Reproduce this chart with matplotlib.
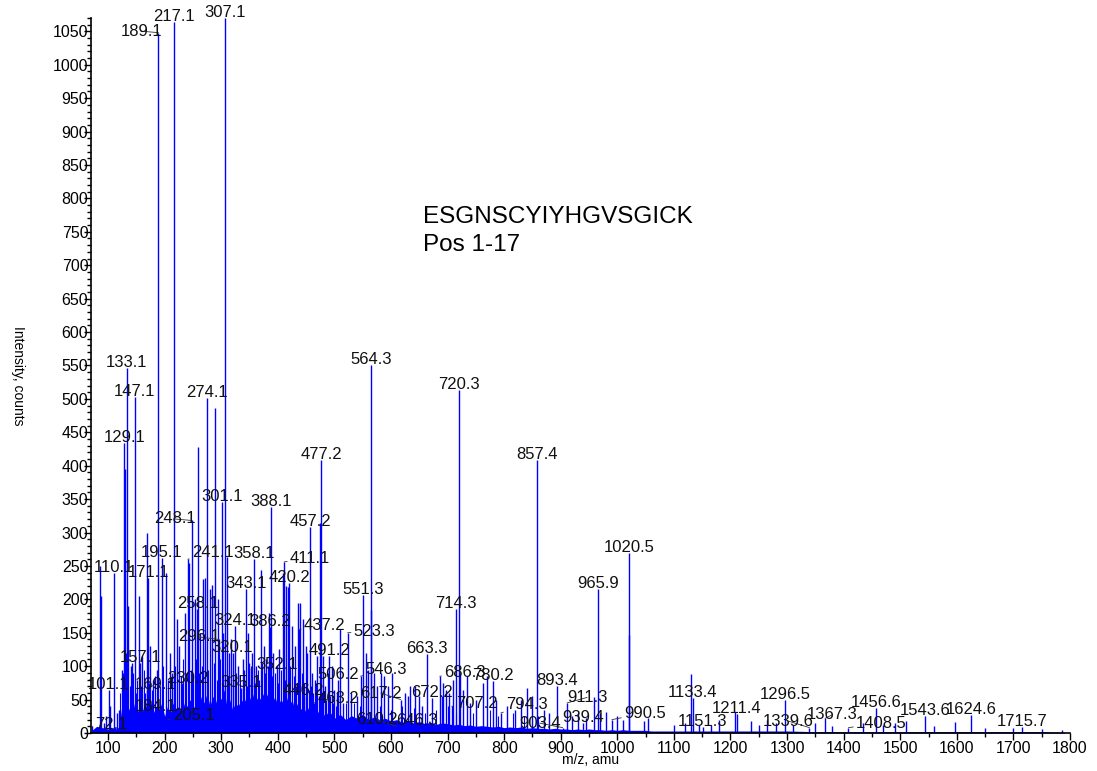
import numpy as np
import matplotlib
matplotlib.use("Agg")
from matplotlib import pyplot as plt
from matplotlib.ticker import MultipleLocator

plt.rcParams['font.family'] = ['Liberation Sans', 'DejaVu Sans']

# labelled peaks (m/z, intensity)
peak_mz = [72.1, 101.1, 110.1, 129.1, 133.1, 147.1, 157.1, 169.1, 171.1, 184.1,
           189.1, 195.1, 205.1, 217.1, 230.2, 241.1, 248.1, 258.1, 274.1, 296.1,
           301.1, 307.1, 320.1, 324.1, 335.1, 343.1, 352.1, 358.1, 386.2, 388.1,
           411.1, 420.2, 437.2, 446.2, 457.2, 463.2, 477.2, 491.2, 506.2, 523.3,
           546.3, 551.3, 564.3, 610.2, 617.2, 646.3, 663.3, 672.2, 686.3, 707.2,
           714.3, 720.3, 780.2, 794.3, 857.4, 893.4, 903.4, 911.3, 939.4, 965.9,
           990.5, 1020.5, 1133.4, 1151.3, 1211.4, 1296.5, 1339.6, 1367.3, 1408.5,
           1456.6, 1543.6, 1624.6, 1715.7]
peak_int = [10, 65, 240, 434, 546, 503, 105, 65, 232, 32,
            1048, 262, 20, 1064, 75, 260, 318, 185, 501, 140,
            345, 1070, 120, 160, 68, 215, 95, 260, 158, 338,
            256, 225, 155, 55, 308, 45, 408, 115, 80, 150,
            85, 206, 550, 10, 50, 10, 118, 52, 85, 40,
            185, 514, 78, 30, 408, 70, 8, 45, 15, 215,
            20, 270, 52, 9, 28, 49, 8, 22, 8,
            38, 26, 27, 9]

# unlabelled peaks
minor_mz = [86, 87, 92, 97, 104, 115, 119, 124, 126, 130.1, 131, 136, 140, 143,
            150, 155, 160, 168, 175, 180, 186, 202, 210, 213, 222, 226, 236, 243,
            253, 259, 263, 268, 271, 280, 284, 289, 294, 303, 310, 314, 318, 330,
            338, 347, 350, 355, 362, 370, 375, 380, 384, 392, 398, 403, 409, 414,
            418, 425, 430, 435, 439, 444, 449, 452, 460, 466, 470, 475, 480, 484,
            488, 495, 500, 505, 510, 515, 530, 540, 556, 560, 565, 570, 575, 582,
            588, 595, 602, 625, 630, 634, 642, 650, 655, 690, 692, 697, 702, 709,
            722, 728, 734, 740, 750, 762, 770, 785, 805, 820, 830, 840, 850, 870,
            880, 920, 930, 945, 959, 970, 980, 1000, 1010, 1021, 1047, 1055, 1100,
            1120, 1130, 1145, 1165, 1180, 1208, 1236, 1250, 1265, 1280, 1310, 1350,
            1380, 1435, 1470, 1490, 1510, 1560, 1597, 1650, 1700, 1750, 1785]
minor_int = [250, 205, 15, 25, 40, 30, 35, 95, 90, 395, 120, 190, 100, 105,
             60, 205, 115, 300, 130, 80, 95, 240, 120, 90, 170, 130, 180, 255,
             200, 428, 150, 230, 232, 215, 221, 486, 200, 150, 263, 120, 140, 100,
             110, 150, 105, 120, 100, 244, 130, 110, 180, 120, 100, 125, 240, 220,
             218, 160, 130, 195, 194, 170, 130, 120, 90, 80, 115, 314, 115, 70,
             90, 100, 65, 60, 155, 45, 60, 55, 120, 95, 184, 90, 70, 90,
             85, 70, 90, 60, 55, 70, 70, 55, 40, 55, 75, 65, 60, 80,
             90, 65, 85, 45, 50, 75, 85, 50, 40, 35, 50, 67, 55, 35,
             30, 25, 30, 22, 54, 30, 32, 25, 20, 147, 18, 22, 12,
             15, 88, 12, 12, 20, 31, 18, 12, 20, 15, 12, 15,
             10, 15, 12, 15, 18, 10, 16, 8, 8, 6, 5]

# small peaks sticking out of the baseline
small_mz = [122, 128, 134, 138, 145, 148, 152, 158, 163, 166, 173, 178, 183, 191,
            197, 206, 216, 219, 229, 233, 238, 246, 250, 256, 261, 266, 277, 287,
            292, 297, 306, 312, 321, 327, 333, 341, 345, 353, 359, 365, 367, 372,
            378, 382, 389, 395, 401, 406, 412, 422, 428, 433, 442, 447, 455, 458,
            462, 468, 473, 478, 486, 492, 498, 503, 520, 535, 545, 555, 580, 600,
            620, 640, 660, 680, 700, 715, 745, 775, 790, 815, 835, 860]
small_int = [60, 85, 75, 70, 90, 65, 80, 70, 95, 60, 75, 65, 85, 70,
             100, 80, 75, 100, 85, 110, 90, 95, 85, 110, 90, 100, 95, 105,
             80, 110, 95, 85, 75, 90, 80, 95, 70, 100, 75, 95, 80, 105,
             90, 100, 85, 90, 75, 95, 80, 100, 85, 70, 90, 75, 65, 70,
             60, 75, 55, 60, 50, 55, 45, 40, 45, 45, 40, 50, 40, 35,
             40, 38, 30, 35, 40, 30, 30, 35, 25, 30, 25, 25]

# dense low-level baseline (envelope of the "grass")
grass_mz = [70, 80, 90, 100, 110, 115, 120, 125, 130, 135, 140, 145, 150, 155,
            160, 165, 170, 175, 180, 185, 190, 195, 200, 205, 210, 215, 220, 225,
            230, 235, 240, 245, 250, 255, 260, 265, 270, 275, 280, 285, 290, 295,
            300, 305, 310, 315, 320, 325, 330, 335, 340, 345, 350, 355, 360, 365,
            370, 375, 380, 385, 390, 395, 400, 405, 410, 415, 420, 425, 430, 435,
            440, 445, 450, 455, 460, 465, 470, 475, 480, 485, 490, 495, 500,
            510, 520, 530, 540, 550, 560, 570, 580, 590, 600, 610, 620,
            630, 640, 650, 660, 670, 680, 690, 700, 710, 720, 730, 740, 750, 760,
            770, 780, 790, 800, 810, 820, 830, 840, 850, 860, 870, 880, 890, 900,
            910, 920, 930, 940, 950, 960, 970, 980, 990, 1000, 1010, 1020, 1030,
            1040, 1050, 1060, 1070, 1080, 1090, 1100, 1150, 1200, 1250, 1300, 1350,
            1400, 1450, 1500, 1550, 1600, 1650, 1700, 1750, 1790]
grass_int = [3, 10, 8, 6, 8, 6, 10, 45, 55, 40, 30, 45, 25, 40,
             30, 45, 35, 50, 30, 40, 35, 45, 25, 40, 30, 45, 35, 40,
             30, 45, 40, 50, 35, 45, 40, 55, 45, 60, 40, 55, 45, 60,
             50, 65, 40, 50, 35, 45, 40, 50, 45, 55, 50, 60, 45, 55,
             50, 60, 55, 65, 45, 55, 40, 50, 45, 55, 40, 50, 35, 45,
             35, 40, 30, 40, 28, 35, 30, 38, 25, 32, 25, 30, 22,
             28, 20, 26, 22, 28, 20, 24, 20, 22, 18, 20, 16,
             18, 15, 17, 14, 16, 13, 15, 14, 12, 13, 11, 12, 10, 11,
             10, 9, 10, 8, 9, 8, 9, 7, 8, 7, 7, 6, 7, 6,
             6, 5, 6, 5, 6, 5, 5, 4, 5, 4, 5, 4, 4,
             4, 4, 3, 3, 3, 3, 3, 3, 3, 3, 3, 2,
             2, 2, 2, 2, 2, 2, 2, 2, 1]

# label shifts (pixels) for labels drawn with a leader line
leader = {72.1: (19, -3), 189.1: (-17, -3), 241.1: (25, 2), 248.1: (-17, -3),
          296.1: (-20, -2), 411.1: (26, -1), 437.2: (26, -1), 352.1: (26, 1),
          169.1: (8, 1), 230.2: (6, 0), 205.1: (26, 0), 463.2: (25, 0),
          523.3: (27, -3), 546.3: (26, 2), 617.2: (-20, 2), 610.2: (-20, 2),
          686.3: (25, -1), 707.2: (25, -2), 794.3: (26, 4), 903.4: (-23, 0),
          911.3: (20, 1), 990.5: (33, 2), 1339.6: (-21, 2), 1367.3: (7, -1),
          1408.5: (33, 0)}

fig = plt.figure(figsize=(10.97, 7.71), dpi=100)
ax = fig.add_axes([0.083, 0.0493, 0.8924, 0.9274])

blue = '#0000ff'
ax.fill_between(grass_mz, grass_int, 0, color=blue, lw=0)
ax.vlines(small_mz, 0, small_int, color=blue, lw=0.8)
ax.vlines(minor_mz, 0, minor_int, color=blue, lw=1.0)
ax.vlines(peak_mz, 0, peak_int, color=blue, lw=1.0)

for mz, h in zip(peak_mz, peak_int):
    txt = f"{mz:.1f}"
    if mz in leader:
        dx, dy = leader[mz]
        ax.annotate(txt, (mz, h), xytext=(dx, dy), textcoords='offset pixels',
                    ha='center', va='baseline', fontsize=12, color='#111111',
                    arrowprops=dict(arrowstyle='-', color='#333333', lw=0.6,
                                    shrinkA=0, shrinkB=0))
    else:
        ax.annotate(txt, (mz, h), xytext=(0, 1), textcoords='offset pixels',
                    ha='center', va='baseline', fontsize=12, color='#111111')

ax.text(656, 772, 'ESGNSCYIYHGVSGICK', fontsize=17.5, va='center', ha='left')
ax.text(656, 730, 'Pos 1-17', fontsize=17.5, va='center', ha='left')

ax.set_xlim(70, 1800)
ax.set_ylim(0, 1070)
ax.xaxis.set_major_locator(MultipleLocator(100))
ax.xaxis.set_minor_locator(MultipleLocator(50))
ax.yaxis.set_major_locator(MultipleLocator(50))
ax.yaxis.set_minor_locator(MultipleLocator(10))
ax.tick_params(axis='y', which='major', length=5, width=1, pad=-3, labelsize=11.5)
ax.tick_params(axis='y', which='minor', length=3, width=1)
ax.tick_params(axis='x', which='major', length=5, width=1, pad=1, labelsize=11.5)
ax.tick_params(axis='x', which='minor', length=3, width=1)
for s in ['top', 'right']:
    ax.spines[s].set_visible(False)
ax.spines['left'].set_linewidth(1.2)
ax.spines['bottom'].set_linewidth(1.2)

fig.text(0.016, 0.512, 'Intensity, counts', rotation=270, ha='center', va='center', fontsize=10)
fig.text(0.538, 0.0143, 'm/z, amu', ha='center', va='center', fontsize=10)

fig.savefig('out.png', dpi=100)
